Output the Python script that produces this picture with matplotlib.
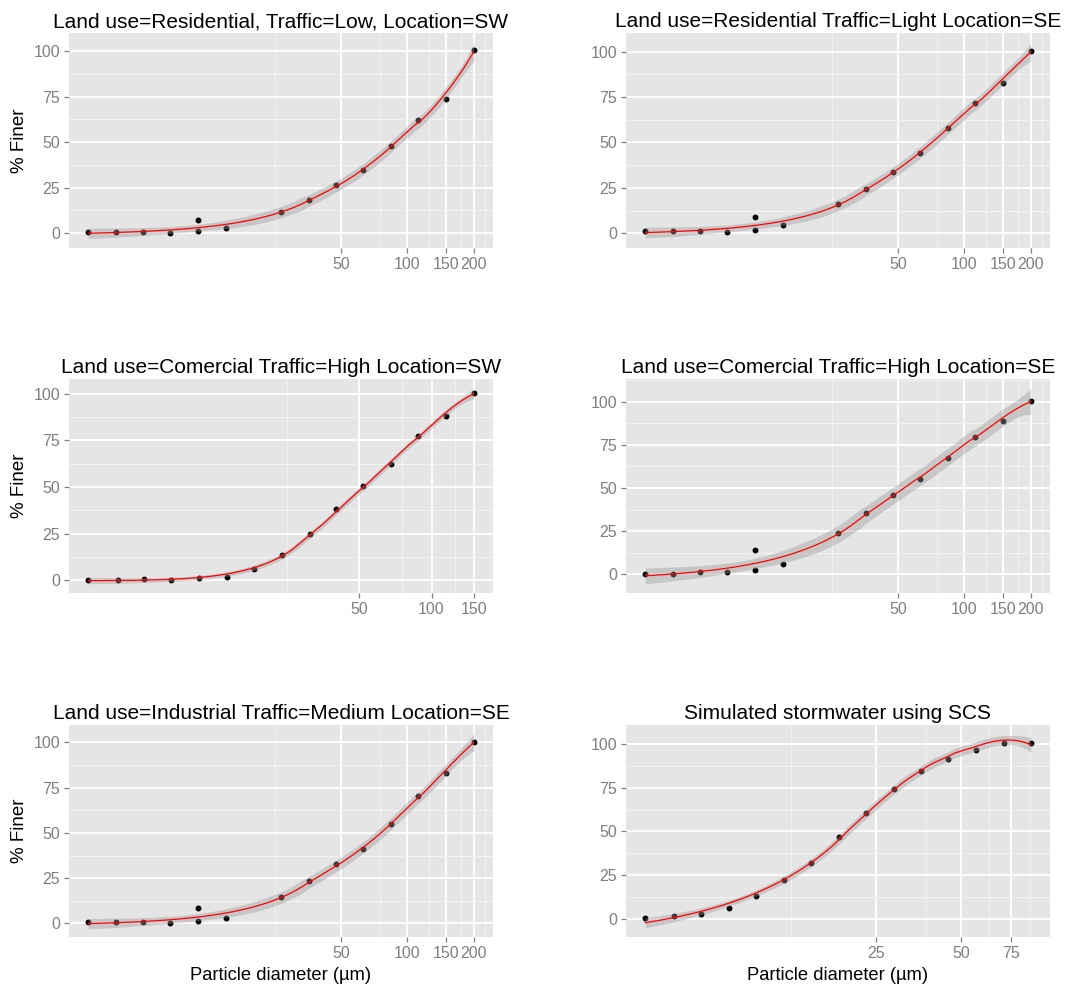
import numpy as np
import matplotlib.pyplot as plt
from matplotlib.ticker import FixedLocator, FixedFormatter, NullFormatter

plt.rcParams["font.family"] = ["Liberation Sans", "DejaVu Sans"]

# ---- data (particle diameter in um, % finer) ----
titles = [
    "Land use=Residential, Traffic=Low, Location=SW",
    "Land use=Residential Traffic=Light Location=SE",
    "Land use=Comercial Traffic=High Location=SW",
    "Land use=Comercial Traffic=High Location=SE",
    "Land use=Industrial Traffic=Medium Location=SE",
    "Simulated stormwater using SCS",
]

size_200 = [3.56, 4.75, 6.3, 8.4, 11.2, 11.2, 15, 26.7, 35.6, 47.5, 63, 84, 112, 150, 200]
size_150 = [3.7, 4.9, 6.3, 8.2, 10.7, 14, 18.2, 23.7, 31, 40, 52, 68, 88, 115, 150]
size_scs = [3.8, 4.8, 6.0, 7.5, 9.4, 11.8, 14.7, 18.4, 23, 28.8, 36, 45, 56.4, 70.5, 88]

finer_res_sw = [0.4, 0.4, 0.4, 0.3, 7.3, 1.3, 2.9, 11.5, 18.3, 26.2, 34.4, 47.6, 61.9, 73.8, 100.4]
finer_res_se = [1.3, 1.3, 1.3, 0.9, 8.8, 1.8, 4.4, 16.0, 24.4, 34.0, 44.0, 58.0, 71.6, 82.6, 100.5]
finer_com_sw = [0.2, 0.2, 0.5, 0.2, 1.1, 1.8, 6.1, 13.8, 24.8, 38.0, 50.5, 62.1, 77.3, 87.9, 100.5]
finer_com_se = [0.4, 0.4, 1.4, 1.4, 13.9, 2.3, 5.8, 24.1, 35.5, 45.8, 55.4, 67.2, 79.7, 88.6, 100.6]
finer_ind_se = [0.6, 0.6, 0.6, 0.4, 8.3, 1.5, 3.1, 14.4, 23.2, 32.6, 40.9, 54.9, 70.5, 83.2, 100.4]
finer_scs = [0.6, 1.7, 2.5, 5.9, 13.0, 22.1, 31.9, 46.9, 60.3, 74.0, 84.4, 91.6, 96.8, 100.4, 100.4]

sizes = [size_200, size_200, size_150, size_200, size_200, size_scs]
finers = [finer_res_sw, finer_res_se, finer_com_sw, finer_com_se, finer_ind_se, finer_scs]
x_breaks = [[50, 100, 150, 200], [50, 100, 150, 200], [50, 100, 150],
            [50, 100, 150, 200], [50, 100, 150, 200], [25, 50, 75]]
y_limits = [(-8.2, 109.9), (-8.1, 110.3), (-6.8, 107.9),
            (-10.8, 113.1), (-7.5, 109.6), (-10.5, 110.9)]
y_breaks = [0, 25, 50, 75, 100]


def t_quantile(df, z=1.959964):
    # Cornish-Fisher expansion of the 97.5% t quantile
    return z + (z**3 + z) / (4 * df) + (5 * z**5 + 16 * z**3 + 3 * z) / (96 * df**2)


def loess(x, y, grid, span=0.75):
    # local quadratic regression with tricube weights (R loess defaults)
    n = len(x)
    q = int(np.floor(n * span))

    def row(x0):
        d = np.abs(x - x0)
        h = np.sort(d)[q - 1] * 1.0001
        w = np.clip(1 - (d / h) ** 3, 0, None) ** 3
        X = np.column_stack([np.ones(n), x - x0, (x - x0) ** 2])
        XtW = X.T * w
        return np.linalg.solve(XtW @ X, XtW)[0]

    L = np.array([row(x0) for x0 in x])
    M = np.eye(n) - L
    MtM = M.T @ M
    d1 = np.trace(MtM)
    d2 = np.trace(MtM @ MtM)
    resid = y - L @ y
    sigma = np.sqrt(resid @ resid / d1)
    lg = np.array([row(g) for g in grid])
    fit = lg @ y
    se = sigma * np.sqrt((lg ** 2).sum(axis=1))
    t = t_quantile(d1 ** 2 / d2)
    return fit, fit - t * se, fit + t * se


def minor_mid(b):
    # minor breaks: linear midpoints between majors, extended one step
    bd = b[1] - b[0]
    ext = [b[0] - bd] + list(b) + [b[-1] + bd]
    return [(a + c) / 2 for a, c in zip(ext[:-1], ext[1:]) if (a + c) / 2 > 0]


fig = plt.figure(figsize=(10.89, 9.93), dpi=100)
lefts = [69, 626]
rows = [(33, 248), (379, 593), (725, 937)]
W, H = 1089, 993

for i in range(6):
    r, c = divmod(i, 2)
    top, bot = rows[r]
    ax = fig.add_axes([lefts[c] / W, 1 - bot / H, 424 / W, (bot - top) / H])

    x = np.array(sizes[i], dtype=float)
    y = np.array(finers[i], dtype=float)

    # smooth fitted on the untransformed x (log applied by the coordinate system)
    grid = np.linspace(x.min(), x.max(), 80)
    fit, lo, hi = loess(x, y, grid)
    # straight segments in data space, drawn densely so they bend on the log axis
    dense = np.linspace(x.min(), x.max(), 2000)
    fit_d = np.interp(dense, grid, fit)
    lo_d = np.interp(dense, grid, lo)
    hi_d = np.interp(dense, grid, hi)

    ax.set_facecolor("#E5E5E5")
    ax.scatter(x, y, s=18, color="black", zorder=3, linewidths=0)
    ax.fill_between(dense, lo_d, hi_d, color="#999999", alpha=0.4, linewidth=0, zorder=4)
    ax.plot(dense, fit_d, color="red", linewidth=0.9, zorder=5)

    ax.set_xscale("log")
    lx = np.log(x)
    span = lx.max() - lx.min()
    ax.set_xlim(np.exp(lx.min() - 0.05 * span), np.exp(lx.max() + 0.05 * span))
    ax.set_ylim(*y_limits[i])

    xb = x_breaks[i]
    ax.xaxis.set_major_locator(FixedLocator(xb))
    ax.xaxis.set_major_formatter(FixedFormatter([str(v) for v in xb]))
    ax.xaxis.set_minor_locator(FixedLocator(minor_mid(xb)))
    ax.xaxis.set_minor_formatter(NullFormatter())
    ax.yaxis.set_major_locator(FixedLocator(y_breaks))
    ax.yaxis.set_minor_locator(FixedLocator(minor_mid(y_breaks)))

    ax.grid(which="minor", color="#F2F2F2", linewidth=0.8, zorder=0)
    ax.grid(which="major", color="white", linewidth=1.3, zorder=0)
    ax.set_axisbelow(True)
    for s in ax.spines.values():
        s.set_visible(False)
    ax.tick_params(which="major", length=3.5, width=0.9, color="#7F7F7F",
                   labelcolor="#7F7F7F", labelsize=11.5, pad=3)
    ax.tick_params(which="minor", length=0)

    ax.set_title(titles[i], fontsize=15, color="black", pad=4)
    if c == 0:
        ax.set_ylabel("% Finer", fontsize=13.5, labelpad=4)
    if r == 2:
        ax.set_xlabel("Particle diameter (µm)", fontsize=13.2, labelpad=4)

fig.savefig("out.png", dpi=100)
